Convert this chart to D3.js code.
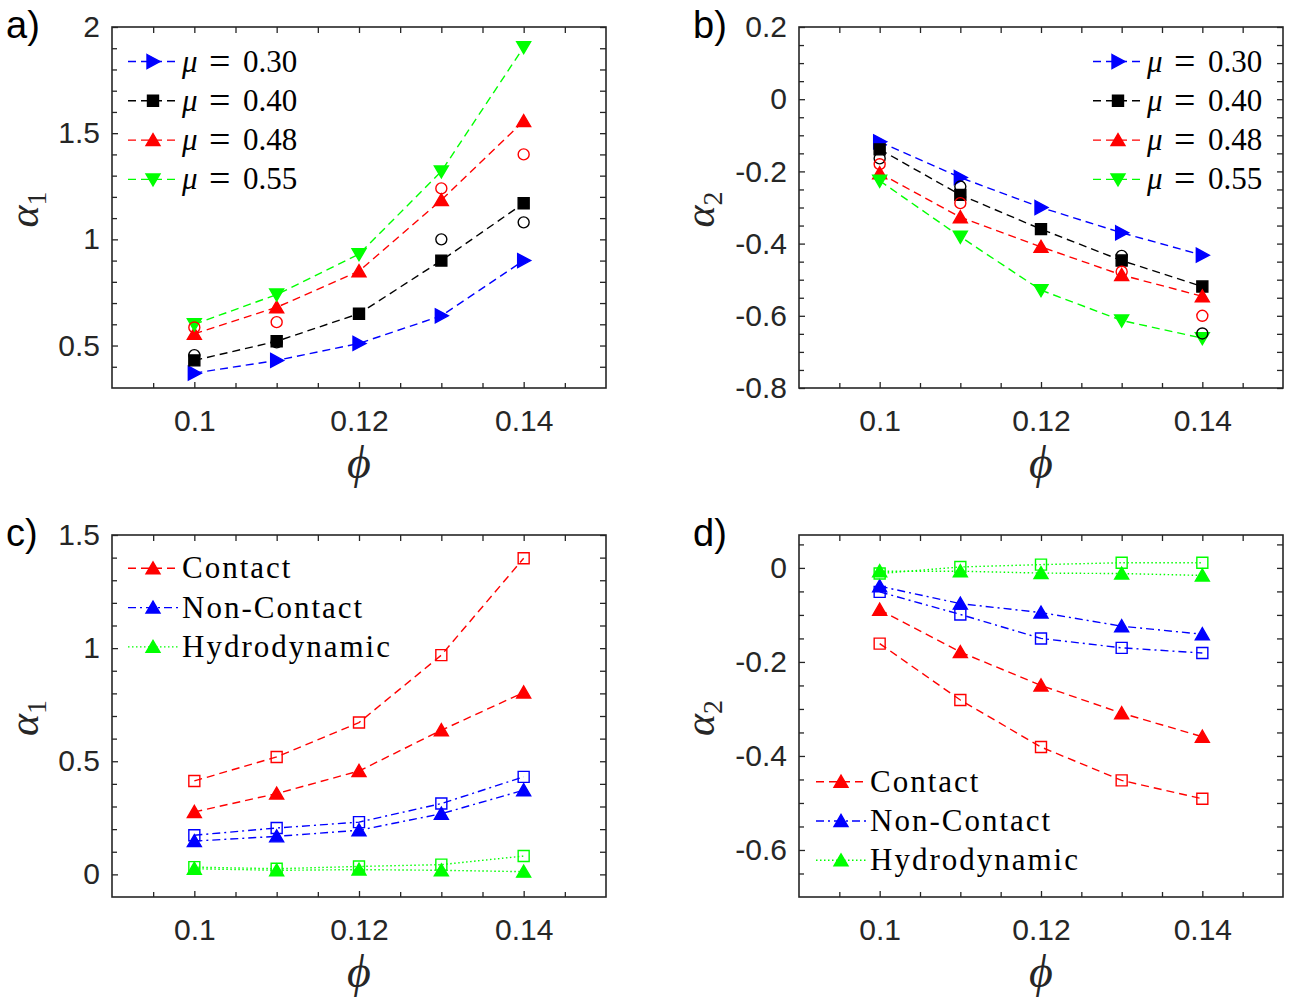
<!DOCTYPE html>
<html>
<head>
<meta charset="utf-8">
<script src="https://cdn.jsdelivr.net/npm/d3@7"></script>
<style>
body{margin:0;background:#fff;}
</style>
</head>
<body>
<svg width="1292" height="1004"></svg>
<script>
// volume fraction (x for all four panels)
var phi = [0.10, 0.11, 0.12, 0.13, 0.14];
var xTicks = [0.10, 0.12, 0.14];
var xTickLabels = ["0.1", "0.12", "0.14"];

// a) alpha_1 vs phi for several mu
var muLabels = ["0.30", "0.40", "0.48", "0.55"];
var a1_mu030 = [0.37, 0.43, 0.51, 0.64, 0.90];
var a1_mu040 = [0.43, 0.52, 0.65, 0.90, 1.17];
var a1_mu048 = [0.555, 0.68, 0.85, 1.185, 1.557];
var a1_mu055 = [0.60, 0.74, 0.93, 1.32, 1.905];
var a1_open040 = [0.455, 0.515, null, 1.00, 1.08];
var a1_open048 = [0.585, 0.61, null, 1.24, 1.40];
var aYTicks = [0.5, 1, 1.5, 2];
var aYTickLabels = ["0.5", "1", "1.5", "2"];

// b) alpha_2 vs phi for several mu
var a2_mu030 = [-0.118, -0.217, -0.30, -0.37, -0.432];
var a2_mu040 = [-0.139, -0.265, -0.36, -0.447, -0.519];
var a2_mu048 = [-0.205, -0.327, -0.409, -0.487, -0.546];
var a2_mu055 = [-0.226, -0.381, -0.529, -0.613, -0.662];
var a2_open040 = [-0.164, -0.242, null, -0.434, -0.649];
var a2_open048 = [-0.18, -0.288, null, -0.478, -0.60];
var bYTicks = [-0.8, -0.6, -0.4, -0.2, 0, 0.2];
var bYTickLabels = ["-0.8", "-0.6", "-0.4", "-0.2", "0", "0.2"];

// c) alpha_1 split by contribution (tri = filled, sq = open)
var compLabels = ["Contact", "Non-Contact", "Hydrodynamic"];
var c_contact_tri = [0.276, 0.357, 0.457, 0.637, 0.804];
var c_contact_sq = [0.413, 0.519, 0.671, 0.969, 1.397];
var c_noncontact_tri = [0.147, 0.168, 0.195, 0.268, 0.372];
var c_noncontact_sq = [0.173, 0.205, 0.231, 0.313, 0.431];
var c_hydro_tri = [0.025, 0.018, 0.021, 0.018, 0.012];
var c_hydro_sq = [0.032, 0.025, 0.035, 0.043, 0.081];
var cYTicks = [0, 0.5, 1, 1.5];
var cYTickLabels = ["0", "0.5", "1", "1.5"];

// d) alpha_2 split by contribution
var d_contact_tri = [-0.089, -0.179, -0.25, -0.309, -0.359];
var d_contact_sq = [-0.161, -0.281, -0.381, -0.452, -0.491];
var d_noncontact_tri = [-0.039, -0.076, -0.095, -0.124, -0.141];
var d_noncontact_sq = [-0.051, -0.099, -0.15, -0.17, -0.181];
var d_hydro_tri = [-0.007, -0.007, -0.011, -0.012, -0.016];
var d_hydro_sq = [-0.012, 0.002, 0.007, 0.011, 0.011];
var dYTicks = [-0.6, -0.4, -0.2, 0];
var dYTickLabels = ["-0.6", "-0.4", "-0.2", "0"];

var BLUE = "#0000ff", BLACK = "#000000", RED = "#ff0000", GREEN = "#00ff00";
var AX = "#262626";
var DASH = "8,5", DASHDOT = "8,4,2,4", DOT = "1.5,2.5";
var SANS = "'Liberation Sans', Arial, sans-serif";
var SERIF = "'Liberation Serif', 'Times New Roman', serif";

var svg = d3.select("svg");

function markerPath(shape) {
	if (shape == "right") return "M-6,-7L7,0L-6,7Z";
	if (shape == "up") return "M-7,5.5L7,5.5L0,-6.5Z";
	if (shape == "down") return "M-7,-5.5L7,-5.5L0,6.5Z";
	if (shape == "square") return "M-5.5,-5.5h11v11h-11Z";
	return null;
}

function drawMarker(g, shape, color, filled, x, y) {
	if (shape == "circle") {
		g.append("circle").attr("cx", x).attr("cy", y).attr("r", 5.5)
			.attr("fill", "none").attr("stroke", color).attr("stroke-width", 1.4);
	} else {
		g.append("path").attr("d", markerPath(shape))
			.attr("transform", "translate(" + x + "," + y + ")")
			.attr("fill", filled ? color : "none")
			.attr("stroke", color).attr("stroke-width", 1.4);
	}
}

function panel(p) {
	var x = d3.scaleLinear().domain([0.09, 0.15]).range([p.left, p.right]);
	var y = d3.scaleLinear().domain(p.ydom).range([p.bottom, p.top]);
	var g = svg.append("g");

	// series
	p.series.forEach(function (s) {
		var pts = phi.map(function (f, i) { return [f, s.values[i]]; });
		if (s.dash) {
			g.append("path")
				.datum(pts)
				.attr("fill", "none")
				.attr("stroke", s.color)
				.attr("stroke-width", 1.4)
				.attr("stroke-dasharray", s.dash)
				.attr("d", d3.line()
					.defined(function (d) { return d[1] != null; })
					.x(function (d) { return x(d[0]); })
					.y(function (d) { return y(d[1]); }));
		}
		pts.forEach(function (d) {
			if (d[1] == null) return;
			drawMarker(g, s.shape, s.color, s.filled, x(d[0]), y(d[1]));
		});
	});

	// minor ticks
	var xMinor = d3.range(0.095, 0.1499, 0.005).filter(function (v) {
		return xTicks.every(function (t) { return Math.abs(t - v) > 1e-6; });
	});
	var yMinor = d3.range(p.ydom[0], p.ydom[1] + 1e-9, p.minorStep).filter(function (v) {
		return v > p.ydom[0] + 1e-6 && v < p.ydom[1] - 1e-6 &&
			p.yticks.every(function (t) { return Math.abs(t - v) > 1e-6; });
	});

	function axisStyle(sel) {
		sel.select(".domain").remove();
		sel.attr("font-family", SANS).attr("font-size", 30);
		sel.selectAll("line").attr("stroke", AX).attr("stroke-width", 1.3);
		sel.selectAll("text").attr("fill", AX);
	}

	g.append("g").attr("transform", "translate(0," + p.bottom + ")")
		.call(d3.axisBottom(x).tickValues(xTicks)
			.tickFormat(function (d, i) { return xTickLabels[i]; })
			.tickSizeInner(-6).tickSizeOuter(0).tickPadding(22))
		.call(axisStyle);
	g.append("g").attr("transform", "translate(0," + p.top + ")")
		.call(d3.axisTop(x).tickValues(xTicks.concat(xMinor)).tickFormat("")
			.tickSizeInner(-6).tickSizeOuter(0))
		.call(axisStyle);
	g.append("g").attr("transform", "translate(0," + p.bottom + ")")
		.call(d3.axisBottom(x).tickValues(xMinor).tickFormat("")
			.tickSizeInner(-5).tickSizeOuter(0))
		.call(axisStyle);
	g.append("g").attr("transform", "translate(" + p.left + ",0)")
		.call(d3.axisLeft(y).tickValues(p.yticks)
			.tickFormat(function (d, i) { return p.ylabels[i]; })
			.tickSizeInner(-6).tickSizeOuter(0).tickPadding(12))
		.call(axisStyle);
	g.append("g").attr("transform", "translate(" + p.left + ",0)")
		.call(d3.axisLeft(y).tickValues(yMinor).tickFormat("")
			.tickSizeInner(-5).tickSizeOuter(0))
		.call(axisStyle);
	g.append("g").attr("transform", "translate(" + p.right + ",0)")
		.call(d3.axisRight(y).tickValues(p.yticks.concat(yMinor)).tickFormat("")
			.tickSizeInner(-6).tickSizeOuter(0))
		.call(axisStyle);

	// box
	g.append("rect")
		.attr("x", p.left).attr("y", p.top)
		.attr("width", p.right - p.left).attr("height", p.bottom - p.top)
		.attr("fill", "none").attr("stroke", AX).attr("stroke-width", 1.6);

	// x label
	g.append("text")
		.attr("x", (p.left + p.right) / 2)
		.attr("y", p.bottom + 90)
		.attr("text-anchor", "middle")
		.attr("font-family", SERIF)
		.attr("font-style", "italic")
		.attr("font-size", 46)
		.attr("fill", AX)
		.text("\u03d5");

	// y label
	var yl = g.append("text")
		.attr("transform", "translate(" + p.ylabelX + "," + ((p.top + p.bottom) / 2 + 2) + ") rotate(-90)")
		.attr("text-anchor", "middle")
		.attr("font-family", SERIF)
		.attr("fill", AX);
	yl.append("tspan").attr("font-style", "italic").attr("font-size", 42).text("\u03b1");
	yl.append("tspan").attr("font-size", 28).attr("dy", 8).text(p.ysub);

	// panel letter
	g.append("text")
		.attr("x", p.left - 106).attr("y", p.top + 11)
		.attr("font-family", SANS)
		.attr("font-size", 38).attr("fill", "#000")
		.text(p.letter);

	// legend
	p.legend.items.forEach(function (it, i) {
		var ly = p.legend.y + i * p.legend.step;
		var lx = p.legend.x;
		g.append("line")
			.attr("x1", lx).attr("x2", lx + 50).attr("y1", ly).attr("y2", ly)
			.attr("stroke", it.color).attr("stroke-width", 1.4)
			.attr("stroke-dasharray", it.dash);
		drawMarker(g, it.shape, it.color, true, lx + 25, ly);
		var t = g.append("text")
			.attr("y", ly + 10)
			.attr("font-family", SERIF)
			.attr("font-size", 31)
			.attr("fill", "#000");
		if (it.mu) {
			t.append("tspan").attr("x", lx + 54).attr("font-style", "italic").text("\u03bc");
			t.append("tspan").attr("x", lx + 81).attr("font-size", 38).attr("dy", 2).text("=");
			t.append("tspan").attr("x", lx + 115).attr("dy", -2).text(it.mu);
		} else {
			t.attr("x", lx + 54).attr("letter-spacing", 2).text(it.label);
		}
	});
}

var muSeriesStyle = [
	{ color: BLUE, shape: "right" },
	{ color: BLACK, shape: "square" },
	{ color: RED, shape: "up" },
	{ color: GREEN, shape: "down" }
];
var compStyle = [
	{ color: RED, dash: DASH },
	{ color: BLUE, dash: DASHDOT },
	{ color: GREEN, dash: DOT }
];

function muSeries(v030, v040, v048, v055, o040, o048) {
	var vals = [v030, v040, v048, v055];
	var s = vals.map(function (v, i) {
		return { values: v, color: muSeriesStyle[i].color, shape: muSeriesStyle[i].shape, filled: true, dash: DASH };
	});
	s.push({ values: o040, color: BLACK, shape: "circle", filled: false, dash: null });
	s.push({ values: o048, color: RED, shape: "circle", filled: false, dash: null });
	return s;
}
function muLegend(lx) {
	return {
		x: lx, y: 61.5, step: 39.3,
		items: muLabels.map(function (m, i) {
			return { mu: m, color: muSeriesStyle[i].color, shape: muSeriesStyle[i].shape, dash: DASH };
		})
	};
}
function compSeries(tri, sq) {
	var s = [];
	tri.forEach(function (v, i) {
		s.push({ values: sq[i], color: compStyle[i].color, shape: "square", filled: false, dash: compStyle[i].dash });
		s.push({ values: v, color: compStyle[i].color, shape: "up", filled: true, dash: compStyle[i].dash });
	});
	return s;
}
function compLegend(lx, ly) {
	return {
		x: lx, y: ly, step: 39.3,
		items: compLabels.map(function (l, i) {
			return { label: l, color: compStyle[i].color, shape: "up", dash: compStyle[i].dash };
		})
	};
}

panel({
	letter: "a)", left: 112, right: 606, top: 27, bottom: 388, ylabelX: 38,
	ydom: [0.3, 2], yticks: aYTicks, ylabels: aYTickLabels, minorStep: 0.1, ysub: "1",
	series: muSeries(a1_mu030, a1_mu040, a1_mu048, a1_mu055, a1_open040, a1_open048),
	legend: muLegend(128)
});
panel({
	letter: "b)", left: 799, right: 1283, top: 27, bottom: 388, ylabelX: 714,
	ydom: [-0.8, 0.2], yticks: bYTicks, ylabels: bYTickLabels, minorStep: 0.05, ysub: "2",
	series: muSeries(a2_mu030, a2_mu040, a2_mu048, a2_mu055, a2_open040, a2_open048),
	legend: muLegend(1093)
});
panel({
	letter: "c)", left: 112, right: 606, top: 535, bottom: 897, ylabelX: 38,
	ydom: [-0.1, 1.5], yticks: cYTicks, ylabels: cYTickLabels, minorStep: 0.1, ysub: "1",
	series: compSeries([c_contact_tri, c_noncontact_tri, c_hydro_tri], [c_contact_sq, c_noncontact_sq, c_hydro_sq]),
	legend: compLegend(128, 568.3)
});
panel({
	letter: "d)", left: 799, right: 1283, top: 535, bottom: 897, ylabelX: 714,
	ydom: [-0.7, 0.07], yticks: dYTicks, ylabels: dYTickLabels, minorStep: 0.05, ysub: "2",
	series: compSeries([d_contact_tri, d_noncontact_tri, d_hydro_tri], [d_contact_sq, d_noncontact_sq, d_hydro_sq]),
	legend: compLegend(816, 781.7)
});
</script>
</body>
</html>
